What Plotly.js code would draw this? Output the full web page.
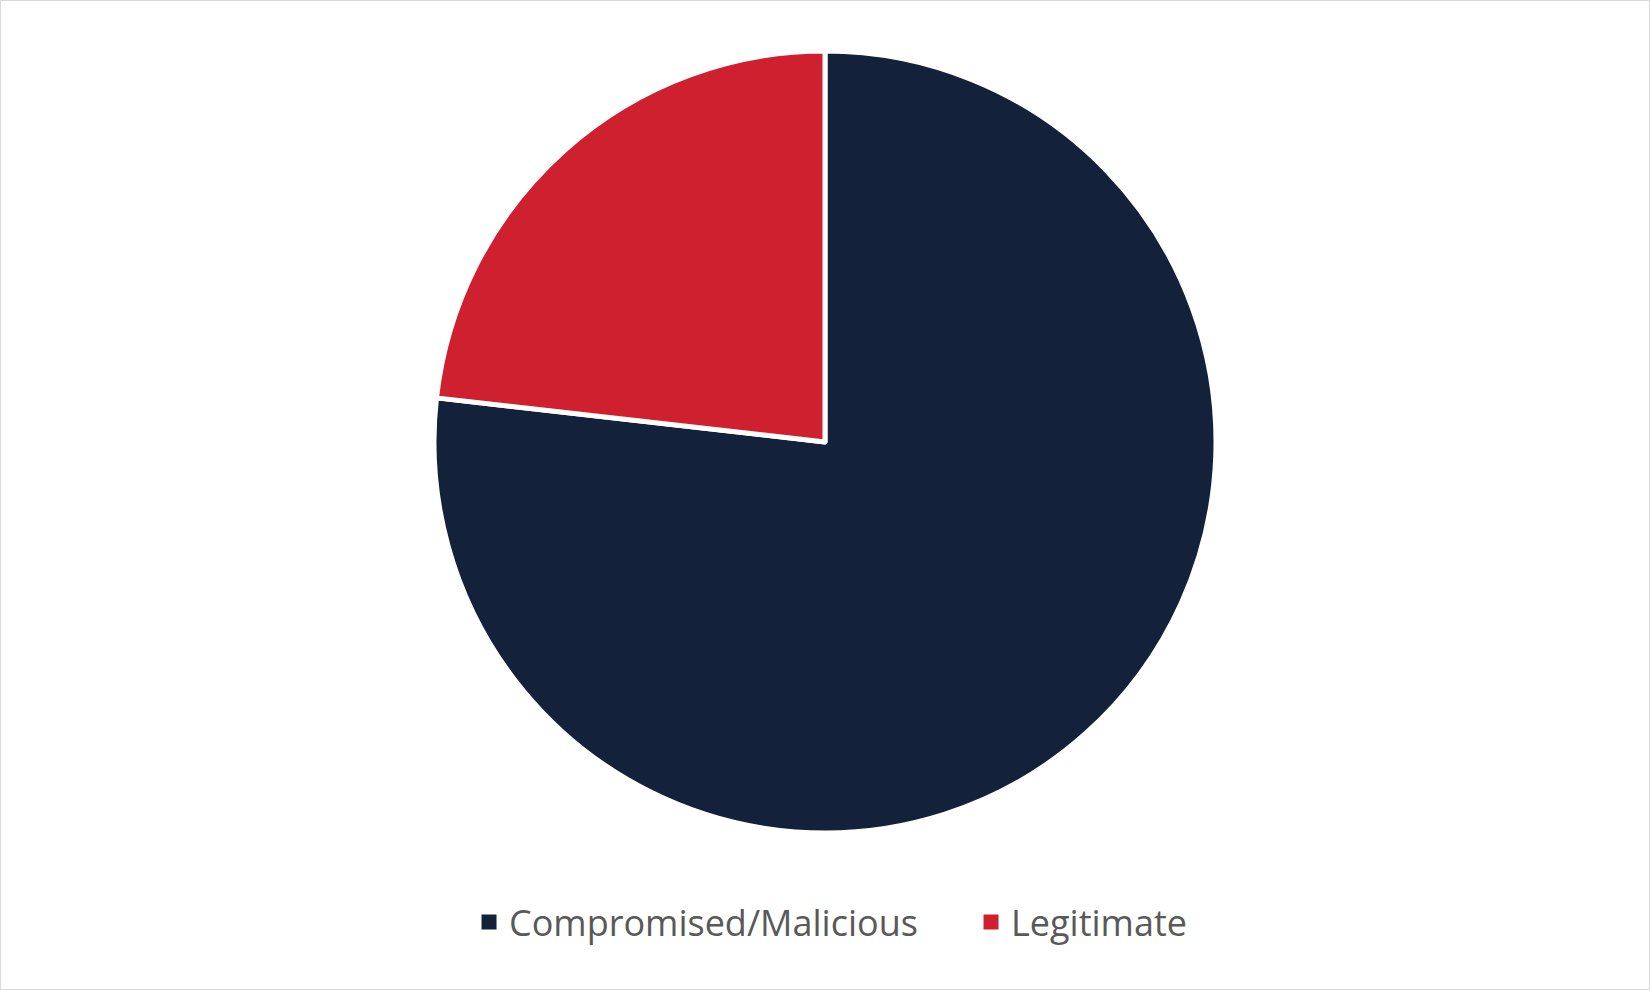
<!DOCTYPE html>
<html>
<head>
<meta charset="utf-8">
<script src="https://cdn.plot.ly/plotly-3.0.1.min.js"></script>
<style>
    body { margin: 0; background: #fff; }
    #wrap { position: relative; width: 1650px; height: 990px; }
    #chart { width: 1650px; height: 990px; }
    #frame { position: absolute; left: 0; top: 0; width: 1650px; height: 990px;
             box-sizing: border-box; border: 1px solid #d9d9d9; pointer-events: none; }
</style>
</head>
<body>
<div id="wrap">
    <div id="chart"></div>
    <div id="frame"></div>
</div>
<script>
// share of cases
const categories = ['Compromised/Malicious', 'Legitimate'];
const shares = [76.8, 23.2];
const sliceColors = ['#13213a', '#ce202f'];

let el = document.getElementById('chart');

// pie legend keys get eaten by the white slice border, so the legend
// comes from empty square-marker traces instead
let keys = categories.map((name, i) => ({
    type: 'scatter',
    mode: 'markers',
    x: [null],
    y: [null],
    name: name,
    hoverinfo: 'skip',
    marker: { symbol: 'square', size: 15, color: sliceColors[i] }
}));

Plotly.newPlot(el, [{
    type: 'pie',
    labels: categories,
    values: shares,
    sort: false,
    direction: 'clockwise',
    rotation: 0,
    textinfo: 'none',
    hoverinfo: 'label+percent',
    showlegend: false,
    marker: {
        colors: sliceColors,
        line: { color: '#ffffff', width: 5 }
    }
}].concat(keys), {
    width: 1650,
    height: 990,
    margin: { l: 0, r: 0, t: 51, b: 157 },
    paper_bgcolor: '#ffffff',
    plot_bgcolor: '#ffffff',
    xaxis: { visible: false },
    yaxis: { visible: false },
    showlegend: true,
    legend: {
        orientation: 'h',
        x: 0.5885,
        xanchor: 'center',
        y: 0.0685,
        yref: 'container',
        yanchor: 'middle',
        entrywidth: 457,
        entrywidthmode: 'pixels',
        font: { family: 'Open Sans, sans-serif', size: 36, color: '#595959' }
    }
}, { displayModeBar: false, staticPlot: true });
</script>
</body>
</html>
